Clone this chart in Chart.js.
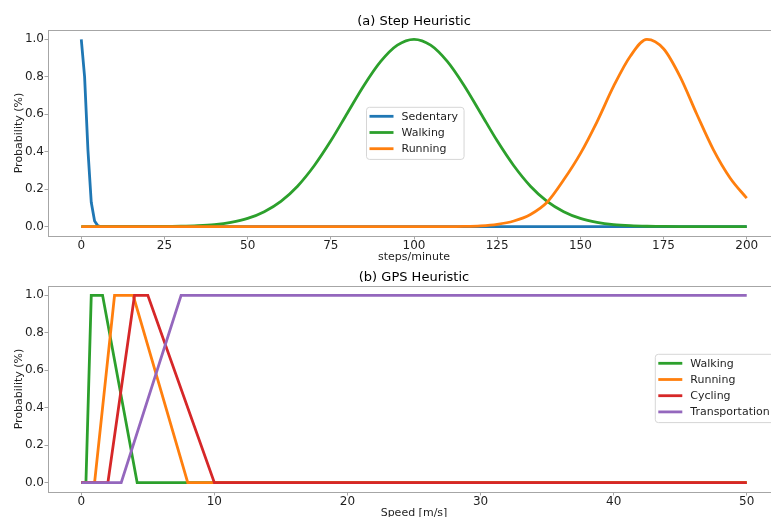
<!doctype html>
<html lang="en">
<head>
  <meta charset="utf-8">
  <title>Step and GPS Heuristics</title>
  <script src="https://cdn.jsdelivr.net/npm/chart.js/dist/chart.umd.min.js"></script>
  <style>
    html, body { margin: 0; padding: 0; background: #fff; overflow: hidden; }
    body { width: 771px; height: 517px; position: relative; }
    canvas { position: absolute; left: 0; }
    #stepChart { top: 0; }
    #gpsChart { top: 258px; }
  </style>
</head>
<body>
  <canvas id="stepChart" width="800" height="264"></canvas>
  <canvas id="gpsChart" width="800" height="262"></canvas>

  <script>
    // (a) step heuristic, x = steps/minute
    const stepX = [0, 5, 10, 15, 20, 25, 30, 35, 40, 45, 50, 55, 60, 65, 70, 75, 80, 85, 90, 95, 100,
      105, 110, 115, 120, 125, 130, 135, 140, 145, 150, 155, 160, 165, 170, 175, 180, 185, 190, 195, 200];
    const sedentaryX = [0, 1, 2, 3, 4, 5, 6, 200];
    const sedentaryY = [1.0, 0.80, 0.41, 0.13, 0.03, 0.004, 0, 0];
    const walkingStepY = [0, 0, 0, 0, 0.0003, 0.0009, 0.002, 0.005, 0.011, 0.023, 0.044, 0.080, 0.135,
      0.216, 0.325, 0.458, 0.607, 0.755, 0.882, 0.969, 1.0, 0.969, 0.882, 0.755, 0.607, 0.458, 0.325,
      0.216, 0.135, 0.080, 0.044, 0.023, 0.011, 0.005, 0.002, 0.0009, 0.0003, 0, 0, 0, 0];
    const runningStepY = [0, 0, 0, 0, 0, 0, 0, 0, 0, 0, 0, 0, 0, 0, 0, 0, 0, 0, 0, 0, 0, 0, 0,
      0.001, 0.004, 0.012, 0.03, 0.065, 0.13, 0.25, 0.39, 0.56, 0.75, 0.91, 1.0, 0.95, 0.80, 0.60,
      0.41, 0.26, 0.152];
    const stepTicks = [0, 25, 50, 75, 100, 125, 150, 175, 200];

    // (b) gps heuristic, x = speed in m/s
    const walkingGpsX = [0, 0.35, 0.75, 1.6, 4.2, 50];
    const walkingGpsY = [0, 0, 1, 1, 0, 0];
    const runningGpsX = [0, 1.0, 2.5, 3.9, 8, 50];
    const runningGpsY = [0, 0, 1, 1, 0, 0];
    const cyclingGpsX = [0, 2, 4, 5, 10, 50];
    const cyclingGpsY = [0, 0, 1, 1, 0, 0];
    const transportGpsX = [0, 3, 7.5, 50];
    const transportGpsY = [0, 0, 1, 1];
    const gpsTicks = [0, 10, 20, 30, 40, 50];

    const probTicks = [0, 0.2, 0.4, 0.6, 0.8, 1.0];

    const BLUE = '#1f77b4', ORANGE = '#ff7f0e', GREEN = '#2ca02c', RED = '#d62728', PURPLE = '#9467bd';
    const SPINE = '#a6a6a6';

    Chart.defaults.font.family = '"DejaVu Sans", Verdana, sans-serif';
    Chart.defaults.color = '#1f1f1f';

    const pts = (xs, ys) => xs.map((x, i) => ({ x: x, y: ys[i] }));

    function line(label, color, data, order, smooth) {
      return {
        label: label,
        data: data,
        borderColor: color,
        backgroundColor: color,
        borderWidth: 2.8,
        pointRadius: 0,
        fill: false,
        order: order,
        cubicInterpolationMode: smooth ? 'monotone' : 'default',
        tension: 0
      };
    }

    // axes box + matplotlib-like legend
    const framePlugin = {
      id: 'frameLegend',
      afterDatasetsDraw(chart, args, opts) {
        const { ctx, chartArea: a } = chart;
        ctx.save();
        ctx.strokeStyle = SPINE;
        ctx.lineWidth = 1;
        ctx.strokeRect(Math.round(a.left) + 0.5, Math.round(a.top) + 0.5,
          Math.round(a.right - a.left), Math.round(a.bottom - a.top));

        const ds = chart.data.datasets;
        ctx.font = '11px "DejaVu Sans"';
        let maxW = 0;
        ds.forEach(d => { maxW = Math.max(maxW, ctx.measureText(d.label).width); });
        const w = maxW + 41, rowH = 16.2, h = rowH * ds.length + 3.5;
        const x = opts.x, y = opts.y, r = 3;
        ctx.beginPath();
        ctx.moveTo(x + r, y);
        ctx.arcTo(x + w, y, x + w, y + h, r);
        ctx.arcTo(x + w, y + h, x, y + h, r);
        ctx.arcTo(x, y + h, x, y, r);
        ctx.arcTo(x, y, x + w, y, r);
        ctx.closePath();
        ctx.fillStyle = 'rgba(255,255,255,0.8)';
        ctx.fill();
        ctx.strokeStyle = '#d6d6d6';
        ctx.stroke();
        ds.forEach((d, i) => {
          const cy = y + 9 + i * rowH;
          ctx.beginPath();
          ctx.moveTo(x + 3, cy);
          ctx.lineTo(x + 27, cy);
          ctx.strokeStyle = d.borderColor;
          ctx.lineWidth = 2.8;
          ctx.stroke();
          ctx.fillStyle = '#1f1f1f';
          ctx.textBaseline = 'middle';
          ctx.textAlign = 'left';
          ctx.fillText(d.label, x + 35, cy + 0.5);
        });
        ctx.restore();
      }
    };

    function makeOptions(title, titlePad, xTitle, xMin, xMax, xTicks, legendPos) {
      return {
        responsive: false,
        animation: false,
        layout: { padding: { left: 0, right: 20, top: 0, bottom: 0 } },
        plugins: {
          legend: { display: false },
          tooltip: { enabled: false },
          title: {
            display: true,
            fullSize: false,
            text: title,
            color: '#000',
            font: { size: 13, weight: 'normal' },
            padding: titlePad
          },
          frameLegend: legendPos
        },
        scales: {
          x: {
            type: 'linear',
            min: xMin,
            max: xMax,
            afterBuildTicks: s => { s.ticks = xTicks.map(v => ({ value: v })); },
            afterFit: s => { s.height = 28; },
            grid: { drawOnChartArea: false, drawTicks: true, tickLength: 3.5, color: SPINE },
            border: { display: false },
            ticks: { font: { size: 12, lineHeight: 1 }, padding: 0, maxRotation: 0 },
            title: { display: true, text: xTitle, font: { size: 11 }, padding: 0 }
          },
          y: {
            type: 'linear',
            min: -0.05,
            max: 1.05,
            afterBuildTicks: s => { s.ticks = probTicks.map(v => ({ value: v })); },
            afterFit: s => { s.width = 48; },
            grid: { drawOnChartArea: false, drawTicks: true, tickLength: 3.5, color: SPINE },
            border: { display: false },
            ticks: { font: { size: 12 }, padding: 0.5, callback: v => v.toFixed(1) },
            title: { display: true, text: 'Probability (%)', font: { size: 11 }, padding: { top: 12.4, bottom: 0 } }
          }
        }
      };
    }

    new Chart(document.getElementById('stepChart'), {
      type: 'line',
      data: {
        datasets: [
          line('Sedentary', BLUE, pts(sedentaryX, sedentaryY), 3, false),
          line('Walking', GREEN, pts(stepX, walkingStepY), 2, true),
          line('Running', ORANGE, pts(stepX, runningStepY), 1, true)
        ]
      },
      options: makeOptions('(a) Step Heuristic', { top: 14.2, bottom: 0.2 }, 'steps/minute',
        -10, 210, stepTicks, { x: 366.5, y: 107.3 }),
      plugins: [framePlugin]
    });

    new Chart(document.getElementById('gpsChart'), {
      type: 'line',
      data: {
        datasets: [
          line('Walking', GREEN, pts(walkingGpsX, walkingGpsY), 4, false),
          line('Running', ORANGE, pts(runningGpsX, runningGpsY), 3, false),
          line('Cycling', RED, pts(cyclingGpsX, cyclingGpsY), 2, false),
          line('Transportation', PURPLE, pts(transportGpsX, transportGpsY), 1, false)
        ]
      },
      options: makeOptions('(b) GPS Heuristic', { top: 12.2, bottom: 0.2 }, 'Speed [m/s]',
        -2.5, 52.5, gpsTicks, { x: 655.3, y: 96.3 }),
      plugins: [framePlugin]
    });
  </script>
</body>
</html>
